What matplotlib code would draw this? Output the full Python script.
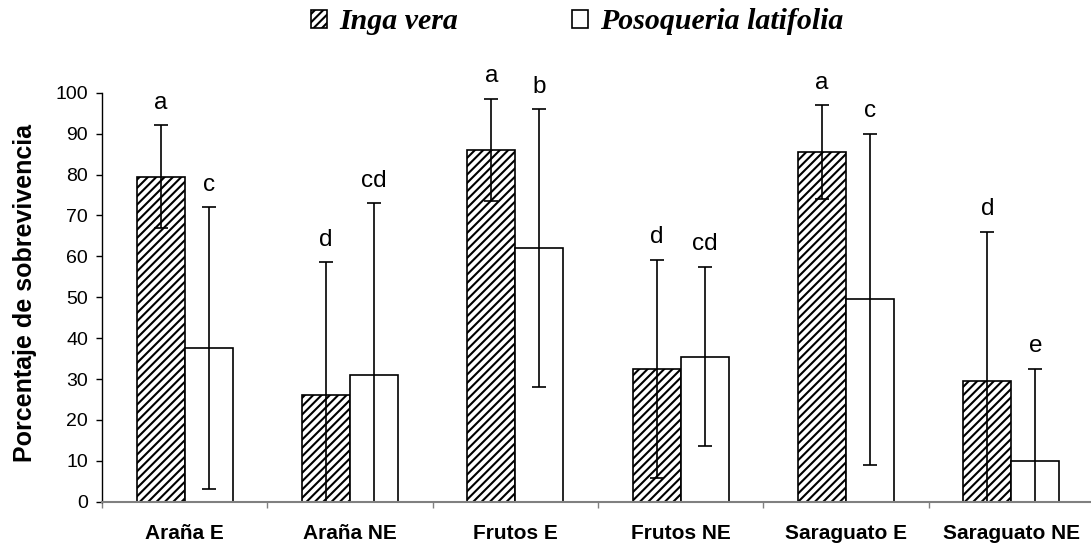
import numpy as np
import matplotlib
matplotlib.use("Agg")
import matplotlib.pyplot as plt

plt.rcParams["font.family"] = ["Liberation Sans", "DejaVu Sans"]
plt.rcParams["hatch.linewidth"] = 1.5

# survival (%) per treatment, mean and error
categories = ["Araña E", "Araña NE", "Frutos E", "Frutos NE", "Saraguato E", "Saraguato NE"]
inga = [79.5, 26.0, 86.0, 32.5, 85.5, 29.5]
inga_err = [12.5, 32.5, 12.5, 26.7, 11.5, 36.5]
poso = [37.6, 31.0, 62.0, 35.5, 49.5, 10.0]
poso_err = [34.4, 42.0, 34.0, 22.0, 40.5, 22.5]
inga_letters = ["a", "d", "a", "d", "a", "d"]
poso_letters = ["c", "cd", "b", "cd", "c", "e"]

fig = plt.figure(figsize=(10.91, 5.45), dpi=100)
ax = fig.add_axes([102 / 1091, 43.3 / 545, 992 / 1091, 409 / 545])

x = np.arange(len(categories))
w = 0.29

b1 = ax.bar(x - w / 2, inga, w, color="white", edgecolor="black",
            hatch="////", linewidth=1.2, label="Inga vera")
b2 = ax.bar(x + w / 2, poso, w, color="white", edgecolor="black",
            linewidth=1.2, label="Posoqueria latifolia")
ax.errorbar(x - w / 2, inga, yerr=inga_err, fmt="none", ecolor="black",
            elinewidth=1.2, capsize=5, capthick=1.2)
ax.errorbar(x + w / 2, poso, yerr=poso_err, fmt="none", ecolor="black",
            elinewidth=1.2, capsize=5, capthick=1.2)

for xi, v, e, t in zip(x - w / 2, inga, inga_err, inga_letters):
    ax.text(xi, v + e + 4, t, ha="center", va="baseline", fontsize=17.5, clip_on=False)
for xi, v, e, t in zip(x + w / 2, poso, poso_err, poso_letters):
    ax.text(xi, v + e + 4, t, ha="center", va="baseline", fontsize=17.5, clip_on=False)

ax.set_xlim(-0.5, len(categories) - 0.5)
ax.set_ylim(0, 100)
ax.set_yticks(range(0, 101, 10))
ax.set_xticks(x)
ax.set_xticklabels(categories, fontsize=15, fontweight="bold")
ax.set_xticks(np.arange(len(categories)) - 0.5, minor=True)
ax.tick_params(axis="x", which="major", length=0, pad=16)
ax.tick_params(axis="x", which="minor", length=4, color="#808080", width=1)
ax.tick_params(axis="y", labelsize=14, length=4, width=1, pad=6)

for s in ("top", "right"):
    ax.spines[s].set_visible(False)
ax.spines["bottom"].set_color("#808080")
ax.spines["bottom"].set_linewidth(1.5)
ax.spines["left"].set_linewidth(1)

ax.set_ylabel("Porcentaje de sobrevivencia", fontsize=18, fontweight="bold")
ax.yaxis.set_label_coords(-0.066, 0.51)

leg = fig.legend(handles=[b1, b2], loc="center", ncol=2, frameon=False,
                 handlelength=0.55, handleheight=0.55,
                 handletextpad=0.4, columnspacing=3.8,
                 prop={"family": "Liberation Serif", "style": "italic",
                       "weight": "bold", "size": 21.5})
leg.set_bbox_to_anchor((0.529, 0.96), transform=fig.transFigure)

fig.savefig("out.png", dpi=100)
